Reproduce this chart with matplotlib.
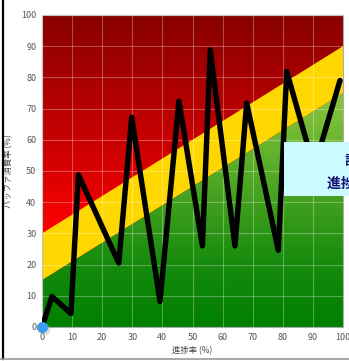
import numpy as np
import matplotlib.pyplot as plt
import matplotlib.transforms as mtransforms
from matplotlib.colors import LinearSegmentedColormap
from matplotlib.patches import Polygon, Rectangle
from matplotlib.lines import Line2D

plt.rcParams['font.family'] = ['Noto Sans CJK JP', 'DejaVu Sans']

# Progress (x) vs. buffer consumption (y), in percent
progress = [0, 3.3, 9.6, 12.1, 25.5, 29.8, 39.2, 45.5, 53.3, 55.9, 64.1, 68.0, 78.5, 81.3, 90.4, 99.0]
buffer_used = [0, 9.8, 4.3, 48.8, 20.5, 67.2, 8.2, 72.4, 26.0, 88.8, 26.0, 71.8, 24.6, 81.9, 51.0, 79.0]

# Zone boundaries: lines y = intercept + slope * x
zone_slope = 0.6
red_intercept = 30
green_intercept = 15

ticks = list(range(0, 101, 10))
x_label = "進捗率 (%)"
y_label = "バッファ消費率 (%)"
tip_lines = ["計画値", "進捗率 90%"]

fig = plt.figure(figsize=(3.49, 3.61), dpi=100)
fig.patch.set_facecolor('white')
ax = fig.add_axes([42 / 349, 34 / 361, 301 / 349, 312 / 361])
ax.set_xlim(0, 100)
ax.set_ylim(0, 100)

# Vertical gradient backgrounds
grad = np.linspace(0, 1, 256).reshape(-1, 1)
red_cmap = LinearSegmentedColormap.from_list(
    'red_zone', [(0, '#ff0000'), (0.3, '#ff0000'), (0.55, '#d00000'), (1, '#880000')])
green_cmap = LinearSegmentedColormap.from_list(
    'green_zone', [(0, '#008000'), (0.2, '#168a0c'), (0.75, '#8cc63e'), (1, '#9ccf48')])

ax.imshow(grad, cmap=red_cmap, origin='lower', extent=[0, 100, 0, 100],
          aspect='auto', zorder=0)
yellow = Polygon([(0, green_intercept), (100, green_intercept + zone_slope * 100),
                  (100, red_intercept + zone_slope * 100), (0, red_intercept)],
                 closed=True, facecolor='#ffd700', edgecolor='none', zorder=1)
ax.add_patch(yellow)
green_img = ax.imshow(grad, cmap=green_cmap, origin='lower', extent=[0, 100, 0, 100],
                      aspect='auto', zorder=1)
green_clip = Polygon([(0, 0), (100, 0), (100, green_intercept + zone_slope * 100),
                      (0, green_intercept)], closed=True, transform=ax.transData,
                     facecolor='none', edgecolor='none')
ax.add_patch(green_clip)
green_img.set_clip_path(green_clip)

ax.set_xticks(ticks)
ax.set_yticks(ticks)
ax.grid(True, color='white', alpha=0.3, linewidth=0.8, zorder=2)
ax.set_axisbelow(False)
for s in ax.spines.values():
    s.set_color('#aaaaaa')
    s.set_linewidth(0.8)
ax.tick_params(length=0, labelsize=6.5, labelcolor='#555555', pad=4)
ax.set_xlabel(x_label, fontsize=6, color='#444444', labelpad=3)
ax.set_ylabel(y_label, fontsize=6, color='#444444', labelpad=6)

ax.plot(progress, buffer_used, color='black', linewidth=3.9,
        solid_joinstyle='round', solid_capstyle='round', zorder=4)

# Start marker with soft shadow
shadow = ax.transData + mtransforms.ScaledTranslation(1.5 / 100, -1.5 / 100,
                                                      fig.dpi_scale_trans)
ax.plot([progress[0]], [buffer_used[0]], marker='o', markersize=8.5, color='#aaaaaa',
        alpha=0.4, markeredgewidth=0, clip_on=False, zorder=5, transform=shadow)
ax.plot([progress[0]], [buffer_used[0]], marker='o', markersize=8, color='#3d9cf0',
        markeredgewidth=0, clip_on=False, zorder=6)

# Frame lines of the chart container
fig.add_artist(Line2D([3 / 349, 3 / 349], [1 - 359 / 361, 1], color='black',
                      linewidth=1.6, transform=fig.transFigure))
fig.add_artist(Line2D([0, 1], [1 - 359 / 361, 1 - 359 / 361], color='#999999',
                      linewidth=1.2, transform=fig.transFigure))

# Tooltip box
fig.add_artist(Rectangle((284 / 349, 1 - 196 / 361), 70 / 349, 54 / 361,
                         transform=fig.transFigure, facecolor='#ccfaff',
                         edgecolor='none', zorder=10))
fig.text(345 / 349, 1 - 161 / 361, tip_lines[0], fontsize=10, fontweight='bold',
         color='#101070', va='center', ha='left', zorder=11)
fig.text(327 / 349, 1 - 184 / 361, tip_lines[1], fontsize=10, fontweight='bold',
         color='#101070', va='center', ha='left', zorder=11)

fig.savefig('out.png', dpi=100)
